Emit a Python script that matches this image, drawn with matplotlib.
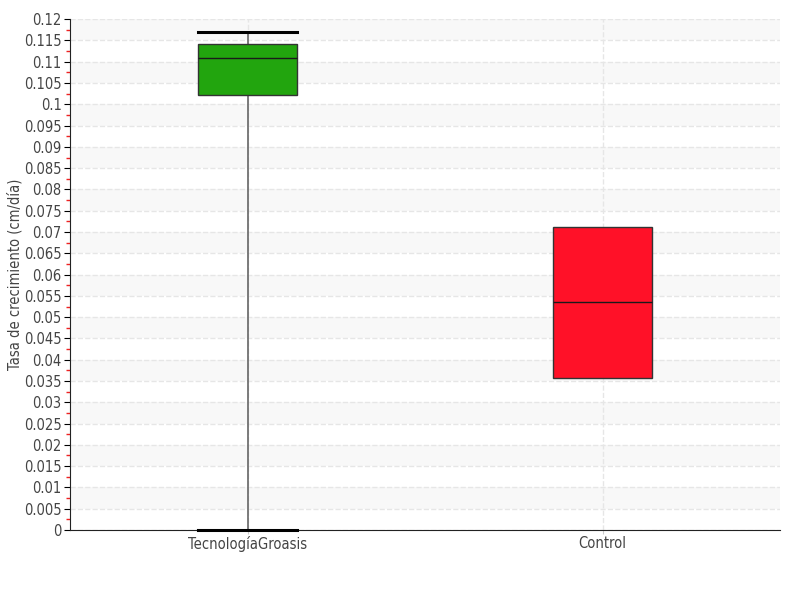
import numpy as np
import matplotlib.pyplot as plt
from matplotlib.ticker import MultipleLocator, FuncFormatter

plt.rcParams['font.family'] = ['DejaVu Sans']
plt.rcParams['font.stretch'] = 'condensed'

# box statistics
labels = ['TecnologíaGroasis', 'Control']
whislo = [0.0, 0.0357]
q1 = [0.1022, 0.0357]
med = [0.1108, 0.0535]
q3 = [0.1141, 0.0712]
whishi = [0.1170, 0.0712]
colors = ['#22a50e', '#ff1128']

stats = []
for i in range(len(labels)):
    stats.append({'label': labels[i], 'whislo': whislo[i], 'q1': q1[i],
                  'med': med[i], 'q3': q3[i], 'whishi': whishi[i], 'fliers': []})

fig = plt.figure(figsize=(8, 6), dpi=100)
ax = fig.add_axes([0.0875, 0.1167, 0.8875, 0.8513])

# alternating bands
for y0 in np.arange(0.005, 0.12, 0.01):
    ax.axhspan(y0, y0 + 0.005, color='#f8f8f8', zorder=0, lw=0)

bp = ax.bxp(stats, positions=[1, 2], widths=0.28, capwidths=0.28,
            patch_artist=True, showfliers=False,
            boxprops=dict(edgecolor='#333333', linewidth=1),
            medianprops=dict(color='#1a1a1a', linewidth=1, zorder=4),
            whiskerprops=dict(color='#666666', linewidth=1.2),
            capprops=dict(color='black', linewidth=2.2))
for patch, c in zip(bp['boxes'], colors):
    patch.set_facecolor(c)
    patch.set_zorder(3)
for cap in bp['caps']:
    cap.set_clip_on(False)
    cap.set_zorder(5)
# control has no whiskers / caps
for art in bp['caps'][2:] + bp['whiskers'][2:]:
    art.set_visible(False)

ax.set_xlim(0.5, 2.5)
ax.set_ylim(0, 0.12)
ax.yaxis.set_major_locator(MultipleLocator(0.005))
ax.yaxis.set_minor_locator(MultipleLocator(0.0025))
ax.yaxis.set_major_formatter(FuncFormatter(lambda v, p: ('%.3f' % v).rstrip('0').rstrip('.') if v != 0 else '0'))
ax.tick_params(axis='y', which='major', length=4, color='black', labelsize=10.5, labelcolor='#444444', pad=2)
ax.tick_params(axis='y', which='minor', length=3, width=1, color='#ee2222')
ax.tick_params(axis='x', length=3, color='#cccccc', labelsize=10.5, labelcolor='#444444', pad=1)

ax.grid(True, axis='both', which='major', linestyle='--', color='#e6e6e6', linewidth=1)
ax.set_axisbelow(True)
for s in ['top', 'right']:
    ax.spines[s].set_visible(False)
ax.spines['left'].set_color('#222222')
ax.spines['bottom'].set_color('#222222')

ax.set_ylabel('Tasa de crecimiento (cm/día)', fontsize=10.5, color='#444444', labelpad=1)

fig.savefig('out.png', dpi=100)
